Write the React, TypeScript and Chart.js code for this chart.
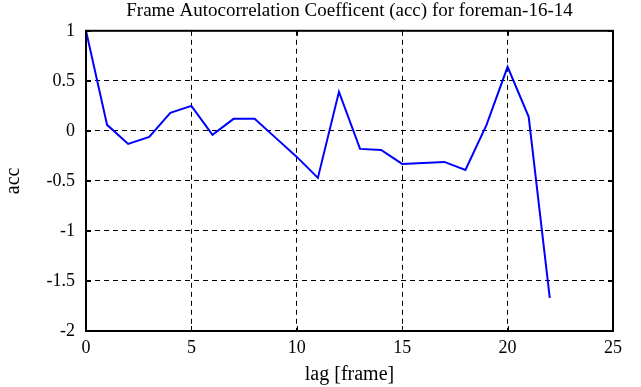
import React, { useEffect, useRef } from "react";
import { Chart, registerables } from "chart.js";

Chart.register(...registerables);

const lags = [0, 1, 2, 3, 4, 5, 6, 7, 8, 9, 10, 11, 12, 13, 14, 15, 16, 17, 18, 19, 20, 21, 22];
const accValues = [1, 0.06, -0.13, -0.06, 0.18, 0.25, -0.04, 0.12, 0.12, -0.07, -0.26, -0.47, 0.39, -0.18, -0.19, -0.33, -0.32, -0.31, -0.39, 0.06, 0.64, 0.14, -1.67];
const xTickValues = [0, 5, 10, 15, 20, 25];
const yTickValues = [1, 0.5, 0, -0.5, -1, -1.5, -2];

const FONT = "'Liberation Serif', 'Times New Roman', serif";

const boxPlugin = {
  id: "boxAndTicks",
  afterLayout(chart: any) {
    const tb = chart.titleBlock;
    if (tb) {
      tb.left = chart.chartArea.left;
      tb.right = chart.chartArea.right;
      tb.width = tb.right - tb.left;
    }
  },
  afterDraw(chart: any) {
    const { ctx, chartArea } = chart;
    const { left, right, top, bottom } = chartArea;
    const xs = chart.scales.x;
    const ys = chart.scales.y;
    const len = 5;
    ctx.save();
    ctx.setLineDash([]);
    ctx.strokeStyle = "#000";
    ctx.lineWidth = 1;
    ctx.beginPath();
    xTickValues.forEach((v) => {
      const px = Math.round(xs.getPixelForValue(v)) + 0.5;
      ctx.moveTo(px, bottom);
      ctx.lineTo(px, bottom - len);
      ctx.moveTo(px, top);
      ctx.lineTo(px, top + len);
    });
    yTickValues.forEach((v) => {
      const py = Math.round(ys.getPixelForValue(v)) + 0.5;
      ctx.moveTo(left, py);
      ctx.lineTo(left + len, py);
      ctx.moveTo(right, py);
      ctx.lineTo(right - len, py);
    });
    ctx.stroke();
    ctx.lineWidth = 2;
    ctx.strokeRect(left, top, right - left, bottom - top);
    ctx.restore();
  },
};

export default function App() {
  const ref = useRef<HTMLCanvasElement | null>(null);
  useEffect(() => {
    if (!ref.current) return;
    const chart = new Chart(ref.current, {
      type: "line",
      data: {
        labels: lags,
        datasets: [
          {
            data: lags.map((x, i) => ({ x, y: accValues[i] })),
            borderColor: "#0000ff",
            borderWidth: 2,
            pointRadius: 0,
            tension: 0,
            fill: false,
          },
        ],
      },
      options: {
        responsive: false,
        animation: false,
        layout: { padding: { left: 0, right: 28, top: 0, bottom: 0 } },
        plugins: {
          legend: { display: false },
          tooltip: { enabled: false },
          title: {
            display: true,
            text: "Frame Autocorrelation Coefficent (acc) for foreman-16-14",
            color: "#000",
            font: { family: FONT, size: 19, weight: "normal", lineHeight: 1.2 },
            padding: { top: 0, bottom: 8 },
          },
        },
        scales: {
          x: {
            type: "linear",
            min: 0,
            max: 25,
            afterBuildTicks(s: any) {
              s.ticks = xTickValues.map((v) => ({ value: v }));
            },
            afterFit(s: any) {
              s.height = 56;
            },
            ticks: {
              color: "#000",
              font: { family: FONT, size: 18 },
              padding: 6,
              maxRotation: 0,
              autoSkip: false,
            },
            grid: { color: "#000", lineWidth: 1, drawTicks: false },
            border: { display: false, dash: [5, 4] },
            title: {
              display: true,
              text: "lag [frame]",
              color: "#000",
              font: { family: FONT, size: 20, lineHeight: 1.2 },
              padding: { top: 0, bottom: 0 },
            },
          },
          y: {
            type: "linear",
            min: -2,
            max: 1,
            afterBuildTicks(s: any) {
              s.ticks = yTickValues.map((v) => ({ value: v }));
            },
            afterFit(s: any) {
              s.width = 86;
            },
            ticks: {
              color: "#000",
              font: { family: FONT, size: 18 },
              padding: 11,
              autoSkip: false,
              callback: (v: any) => String(v),
            },
            grid: { color: "#000", lineWidth: 1, drawTicks: false },
            border: { display: false, dash: [5, 4] },
            title: {
              display: true,
              text: "acc",
              color: "#000",
              font: { family: FONT, size: 20, lineHeight: 1.2 },
              padding: { top: 2, bottom: 0 },
            },
          },
        },
      },
      plugins: [boxPlugin],
    } as any);
    return () => chart.destroy();
  }, []);
  return (
    <div style={{ position: "absolute", left: 0, top: 0, width: 641, height: 387, background: "#fff" }}>
      <canvas ref={ref} width={641} height={387} style={{ display: "block" }} />
    </div>
  );
}
